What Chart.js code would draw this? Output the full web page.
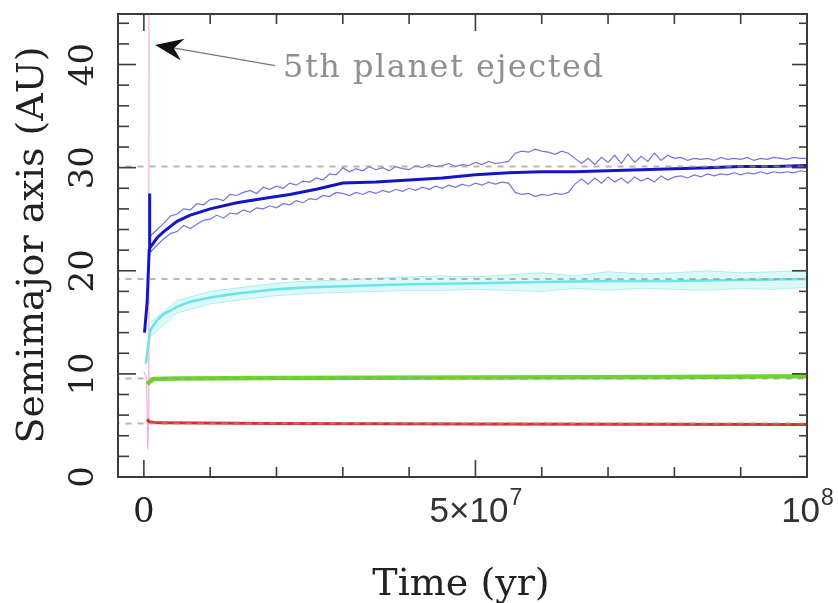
<!DOCTYPE html>
<html>
<head>
<meta charset="utf-8">
<script src="https://cdn.jsdelivr.net/npm/chart.js@4.4.1/dist/chart.umd.min.js"></script>
<style>
  body { margin: 0; background: #fff; }
  #wrap { width: 838px; height: 603px; }
</style>
</head>
<body>
<div id="wrap"><canvas id="grafico" width="838" height="603"></canvas></div>
<script>
// time in Myr, semimajor axis in AU
const xMajorTicks = [0, 50, 100];
const xMinorTicks = [10, 20, 30, 40, 60, 70, 80, 90];
const xTickLabels = [['0', ''], ['5\u00d710', '7'], ['10', '8']];
const yMajorTicks = [0, 10, 20, 30, 40];
const yMinorTicks = [2, 4, 6, 8, 12, 14, 16, 18, 22, 24, 26, 28, 32, 34, 36, 38, 42, 44];
const yTickLabels = ['0', '10', '20', '30', '40'];
const refLevels = [5.2, 9.55, 19.2, 30.1];

const blueTime = [0.1, 0.5, 0.8, 0.85, 0.9, 1, 2, 3, 5, 7, 10, 14, 18, 22, 26, 30, 35, 40, 45, 50, 55, 60, 65, 70, 75, 80, 85, 90, 95, 100];
const blueMean = [14, 17, 22, 27.5, 22.2, 22.3, 23.2, 23.8, 24.8, 25.4, 26.0, 26.6, 27.0, 27.4, 27.9, 28.5, 28.6, 28.8, 29.0, 29.3, 29.5, 29.6, 29.6, 29.7, 29.8, 29.9, 30.0, 30.1, 30.1, 30.2];

const envTime = [
  1, 2, 3, 4, 5, 6, 7, 8, 9, 10, 11, 12, 13, 14, 15, 16, 17, 18, 19, 20,
  21, 22, 23, 24, 25, 26, 27, 28, 29, 30, 31, 32, 33, 34, 35, 36, 37, 38, 39, 40,
  41, 42, 43, 44, 45, 46, 47, 48, 49, 50, 51, 52, 53, 54, 55, 56, 57, 58, 59, 60,
  61, 62, 63, 64, 65, 66, 67, 68, 69, 70, 71, 72, 73, 74, 75, 76, 77, 78, 79, 80,
  81, 82, 83, 84, 85, 86, 87, 88, 89, 90, 91, 92, 93, 94, 95, 96, 97, 98, 99, 100];
const blueUpper = [
  23.4, 24.0, 24.6, 25.3, 25.5, 26.0, 25.9, 26.5, 26.4, 26.9, 27.0, 26.8, 27.4, 27.3, 27.6, 27.8, 27.5, 28.1, 27.9, 28.2,
  28.0, 28.5, 28.3, 28.7, 28.6, 29.0, 28.8, 29.4, 29.3, 30.0, 29.6, 29.9, 29.7, 30.1, 29.8, 30.0, 29.7, 30.1, 29.9, 29.8,
  30.2, 30.0, 30.3, 30.1, 30.2, 30.4, 30.1, 30.3, 30.2, 30.5, 30.3, 30.6, 30.4, 30.5, 30.6, 31.4, 31.6, 31.5, 31.8, 31.6,
  31.5, 31.3, 31.6, 31.4, 30.9, 30.4, 30.9, 30.3, 31.0, 30.5, 31.2, 30.4, 31.3, 30.5, 31.1, 30.6, 31.4, 30.7, 31.2, 30.9,
  31.0, 30.7, 30.9, 30.8, 30.9, 30.7, 31.0, 30.8, 30.9, 30.8, 31.0, 30.7, 30.9, 30.8, 31.0, 30.9, 30.8, 31.0, 30.9, 30.9];
const blueLower = [
  21.8, 22.5, 23.1, 23.6, 23.8, 24.4, 24.1, 24.5, 24.9, 25.0, 25.4, 25.1, 25.6, 25.5, 25.9, 25.7, 26.1, 26.0, 26.3, 26.1,
  26.5, 26.4, 26.8, 26.6, 27.0, 26.9, 27.3, 27.2, 27.6, 27.5, 27.3, 27.6, 27.4, 27.7, 27.5, 27.8, 27.6, 27.9, 27.7, 28.0,
  27.8, 28.1, 27.9, 28.2, 28.0, 28.3, 28.1, 28.4, 28.2, 28.5, 28.3, 28.6, 28.4, 28.6, 28.5, 27.6, 27.4, 27.5, 27.2, 27.4,
  27.3, 27.5, 27.4, 27.6, 28.4, 28.9, 28.4, 29.0, 28.5, 29.1, 28.6, 29.0, 28.5, 29.1, 28.7, 29.0, 28.6, 29.2, 28.8, 29.1,
  29.2, 29.0, 29.3, 29.1, 29.4, 29.2, 29.4, 29.3, 29.5, 29.3, 29.5, 29.4, 29.6, 29.4, 29.6, 29.5, 29.6, 29.5, 29.7, 29.6];

const cyanTime = [0.3, 0.6, 1, 2, 3, 5, 7, 10, 14, 20, 25, 30, 40, 50, 60, 70, 80, 90, 100];
const cyanMean = [11, 12.5, 14.3, 15.2, 15.8, 16.5, 17.0, 17.4, 17.8, 18.2, 18.4, 18.5, 18.7, 18.8, 18.9, 19.0, 19.0, 19.1, 19.2];
const cyanBandTime = [1, 5, 10, 15, 20, 25, 30, 35, 40, 45, 50, 55, 60, 65, 70, 75, 80, 85, 90, 95, 100];
const cyanUpper = [15.0, 17.1, 18.0, 18.4, 18.8, 19.0, 19.1, 19.3, 19.4, 19.5, 19.4, 19.6, 19.8, 19.5, 19.9, 19.7, 19.8, 20.0, 19.8, 19.9, 20.0];
const cyanLower = [13.6, 15.9, 16.8, 17.2, 17.6, 17.8, 17.9, 18.0, 18.1, 18.1, 18.2, 18.1, 18.0, 18.3, 18.1, 18.3, 18.2, 18.1, 18.3, 18.2, 18.4];

const greenTime = [0.5, 0.8, 1.5, 5, 20, 50, 80, 100];
const greenMean = [9.0, 9.2, 9.5, 9.55, 9.6, 9.65, 9.7, 9.78];

const redTime = [0.5, 0.8, 2, 20, 50, 100];
const redMean = [5.6, 5.35, 5.25, 5.2, 5.15, 5.1];

const pinkTime = [0, 0.4, 0.6, 0.7, 0.75, 0.78];
const pinkValues = [10.2, 9.6, 2.7, 5.5, 20, 50];

const note = { text: '5th planet ejected', x: 21, y: 38.8, lineX: 19.8, lineY: 39.9, tipX: 1.7, tipY: 41.9 };

function pontos(xs, ys) {
    return xs.map((t, i) => ({ x: t, y: ys[i] }));
}

function linha(label, xs, ys, cor, largura, extra) {
    return Object.assign({
        label: label,
        data: pontos(xs, ys),
        borderColor: cor,
        borderWidth: largura,
        pointRadius: 0,
        tension: 0,
        fill: false
    }, extra || {});
}

const datasets = [];
refLevels.forEach(v => {
    datasets.push(linha('ref', [-10, 110], [v, v], 'rgba(165,150,125,0.7)', 2, { borderDash: [6, 6] }));
});
datasets.push(linha('blue', blueTime, blueMean, '#1515c8', 3));
datasets.push(linha('blueUp', envTime, blueUpper, 'rgba(80,80,220,0.8)', 1.2));
datasets.push(linha('blueLow', envTime, blueLower, 'rgba(80,80,220,0.8)', 1.2));
datasets.push(linha('cyan', cyanTime, cyanMean, '#6ae4e8', 2.5));
datasets.push(linha('cyanUp', cyanBandTime, cyanUpper, 'rgba(140,232,236,0.7)', 1, { fill: '+1', backgroundColor: 'rgba(185,244,246,0.5)' }));
datasets.push(linha('cyanLow', cyanBandTime, cyanLower, 'rgba(140,232,236,0.7)', 1));
datasets.push(linha('green', greenTime, greenMean, '#6ad82a', 4.5));
datasets.push(linha('red', redTime, redMean, '#d83030', 3));
datasets.push(linha('pink', pinkTime, pinkValues, 'rgba(236,140,200,0.7)', 1.2));

function reta(ctx, x1, y1, x2, y2) {
    ctx.beginPath();
    ctx.moveTo(x1, y1);
    ctx.lineTo(x2, y2);
    ctx.stroke();
}

const eixos = {
    id: 'eixos',
    afterDraw(chart) {
        const ctx = chart.ctx;
        const a = chart.chartArea;
        const x = chart.scales.x;
        const y = chart.scales.y;
        ctx.save();

        // annotation
        const tx = x.getPixelForValue(note.tipX), ty = y.getPixelForValue(note.tipY);
        const lx = x.getPixelForValue(note.lineX), ly = y.getPixelForValue(note.lineY);
        ctx.strokeStyle = '#777';
        ctx.lineWidth = 1.2;
        reta(ctx, lx, ly, tx + 15, ty + 2.5);
        const ang = Math.atan2(ly - ty, lx - tx);
        const c = Math.cos(ang), s = Math.sin(ang);
        ctx.fillStyle = '#111';
        ctx.beginPath();
        ctx.moveTo(tx, ty);
        ctx.lineTo(tx + 28 * c - 11 * s, ty + 28 * s + 11 * c);
        ctx.lineTo(tx + 19 * c, ty + 19 * s);
        ctx.lineTo(tx + 28 * c + 11 * s, ty + 28 * s - 11 * c);
        ctx.closePath();
        ctx.fill();
        ctx.fillStyle = '#8f8f8f';
        ctx.font = '32px "DejaVu Serif"';
        ctx.letterSpacing = '1.5px';
        ctx.textAlign = 'left';
        ctx.textBaseline = 'alphabetic';
        ctx.fillText(note.text, x.getPixelForValue(note.x), y.getPixelForValue(note.y));
        ctx.letterSpacing = '0px';

        // frame and inward ticks
        ctx.strokeStyle = '#3c3c3c';
        ctx.lineWidth = 2;
        ctx.strokeRect(a.left, a.top, a.right - a.left, a.bottom - a.top);
        ctx.lineWidth = 1.6;
        xMajorTicks.concat(xMinorTicks).forEach(v => {
            const px = x.getPixelForValue(v);
            const len = xMajorTicks.includes(v) ? 17 : 10;
            reta(ctx, px, a.bottom, px, a.bottom - len);
            reta(ctx, px, a.top, px, a.top + len);
        });
        yMajorTicks.concat(yMinorTicks).forEach(v => {
            const py = y.getPixelForValue(v);
            const major = yMajorTicks.includes(v);
            reta(ctx, a.left, py, a.left + (major ? 18 : 11), py);
            reta(ctx, a.right, py, a.right - (major ? 15 : 8), py);
        });

        // y tick labels, rotated
        ctx.fillStyle = '#222';
        ctx.font = '34px "DejaVu Serif"';
        ctx.textAlign = 'center';
        yMajorTicks.forEach((v, i) => {
            ctx.save();
            ctx.translate(a.left - 25, y.getPixelForValue(v));
            ctx.rotate(-Math.PI / 2);
            ctx.fillText(yTickLabels[i], 0, 0);
            ctx.restore();
        });

        // x tick labels
        xMajorTicks.forEach((v, i) => {
            const px = x.getPixelForValue(v);
            const base = xTickLabels[i][0], sup = xTickLabels[i][1];
            if (!sup) {
                ctx.font = '34px "DejaVu Serif"';
                ctx.textAlign = 'center';
                ctx.fillText(base, px, a.bottom + 45);
                return;
            }
            ctx.fillStyle = '#333';
            ctx.font = '35px "Liberation Sans"';
            const wb = ctx.measureText(base).width;
            ctx.font = '23px "Liberation Sans"';
            const ws = ctx.measureText(sup).width;
            const x0 = px - (wb + ws) / 2;
            ctx.textAlign = 'left';
            ctx.font = '35px "Liberation Sans"';
            ctx.fillText(base, x0, a.bottom + 45);
            ctx.font = '23px "Liberation Sans"';
            ctx.fillText(sup, x0 + wb + 1, a.bottom + 28);
            ctx.fillStyle = '#222';
        });

        // axis titles
        ctx.font = '38px "DejaVu Serif"';
        ctx.textAlign = 'center';
        ctx.fillText('Time (yr)', 461, 595);
        ctx.save();
        ctx.translate(43, 245);
        ctx.rotate(-Math.PI / 2);
        ctx.fillText('Semimajor axis (AU)', 0, 0);
        ctx.restore();

        ctx.restore();
    }
};

const ctx = document.getElementById('grafico').getContext('2d');
const myChart = new Chart(ctx, {
    type: 'line',
    data: { datasets: datasets },
    options: {
        responsive: false,
        animation: false,
        layout: { padding: { left: 118, top: 14, right: 31, bottom: 126 } },
        plugins: {
            legend: { display: false },
            tooltip: { enabled: false }
        },
        scales: {
            x: { type: 'linear', min: -3.9, max: 100, display: false },
            y: { type: 'linear', min: 0, max: 44.9, display: false }
        }
    },
    plugins: [eixos]
});
</script>
</body>
</html>
